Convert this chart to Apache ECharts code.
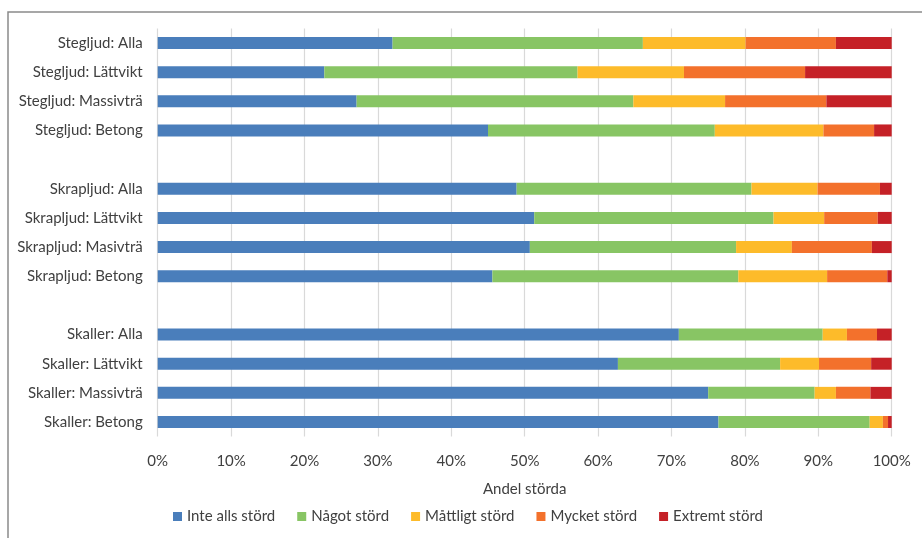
<!DOCTYPE html>
<html><head><meta charset="utf-8">
<script src="https://cdn.jsdelivr.net/npm/echarts@6/dist/echarts.min.js"></script>
<style>html,body{margin:0;padding:0;background:#fff}#c{width:922px;height:538px}</style>
</head><body><div id="c"></div>
<script>
const categories = ['Stegljud: Alla','Stegljud: Lättvikt','Stegljud: Massivträ','Stegljud: Betong','',
  'Skrapljud: Alla','Skrapljud: Lättvikt','Skrapljud: Masivträ','Skrapljud: Betong',' ',
  'Skaller: Alla','Skaller: Lättvikt','Skaller: Massivträ','Skaller: Betong'];
const seriesNames = ['Inte alls störd','Något störd','Måttligt störd','Mycket störd','Extremt störd'];
const inteAlls  = [32.0, 22.7, 27.1, 45.0, null, 48.9, 51.3, 50.7, 45.6, null, 71.0, 62.7, 75.0, 76.4];
const nagot     = [34.1, 34.5, 37.7, 30.9, null, 32.0, 32.6, 28.1, 33.5, null, 19.6, 22.1, 14.5, 20.6];
const mattligt  = [14.0, 14.5, 12.5, 14.8, null, 9.0, 6.9, 7.6, 12.1, null, 3.3, 5.3, 2.9, 1.8];
const mycket    = [12.3, 16.5, 13.8, 6.9, null, 8.5, 7.3, 10.9, 8.2, null, 4.1, 7.1, 4.7, 0.7];
const extremt   = [7.6, 11.8, 8.9, 2.4, null, 1.6, 1.9, 2.7, 0.6, null, 2.0, 2.8, 2.9, 0.5];
const xTicks = ['0%','10%','20%','30%','40%','50%','60%','70%','80%','90%','100%'];
const colors = ['#4a7ebb','#88c564','#fdbb2a','#f3712c','#c52127'];
const allData = [inteAlls, nagot, mattligt, mycket, extremt];
const font = 'Lato, "Open Sans", sans-serif';
const txt = '#404040';
const chart = echarts.init(document.getElementById('c'), null, {renderer:'canvas'});
chart.setOption({
  animation:false,
  textStyle:{fontFamily:font},
  graphic:[{type:'rect',shape:{x:8,y:12,width:1000,height:600},style:{fill:'none',stroke:'#8a8a8a',lineWidth:1.5},silent:true}],
  grid:{left:157.7,right:30.3,top:28.4,bottom:101.4,containLabel:false},
  legend:{bottom:9,left:168,itemWidth:9,itemHeight:9,itemGap:22,icon:'rect',
    textStyle:{fontFamily:font,fontSize:15,color:txt},data:seriesNames},
  xAxis:{type:'value',min:0,max:100,interval:10,
    axisLabel:{formatter:(v)=>xTicks[Math.round(v/10)],fontSize:15,color:txt,margin:17,fontFamily:font},
    axisLine:{show:false},axisTick:{show:false},
    splitLine:{show:true,lineStyle:{color:'#d9d9d9',width:1.2}},
    name:'Andel störda',nameLocation:'middle',nameGap:45,
    nameTextStyle:{fontSize:15,color:txt,fontFamily:font}},
  yAxis:{type:'category',data:categories,inverse:true,
    axisLine:{show:false},axisTick:{show:false},
    axisLabel:{fontSize:15,color:txt,margin:15,fontFamily:font}},
  series: seriesNames.map((n,i)=>({name:n,type:'bar',stack:'s',barWidth:12,
    itemStyle:{color:colors[i]},data:allData[i]}))
});
</script></body></html>
